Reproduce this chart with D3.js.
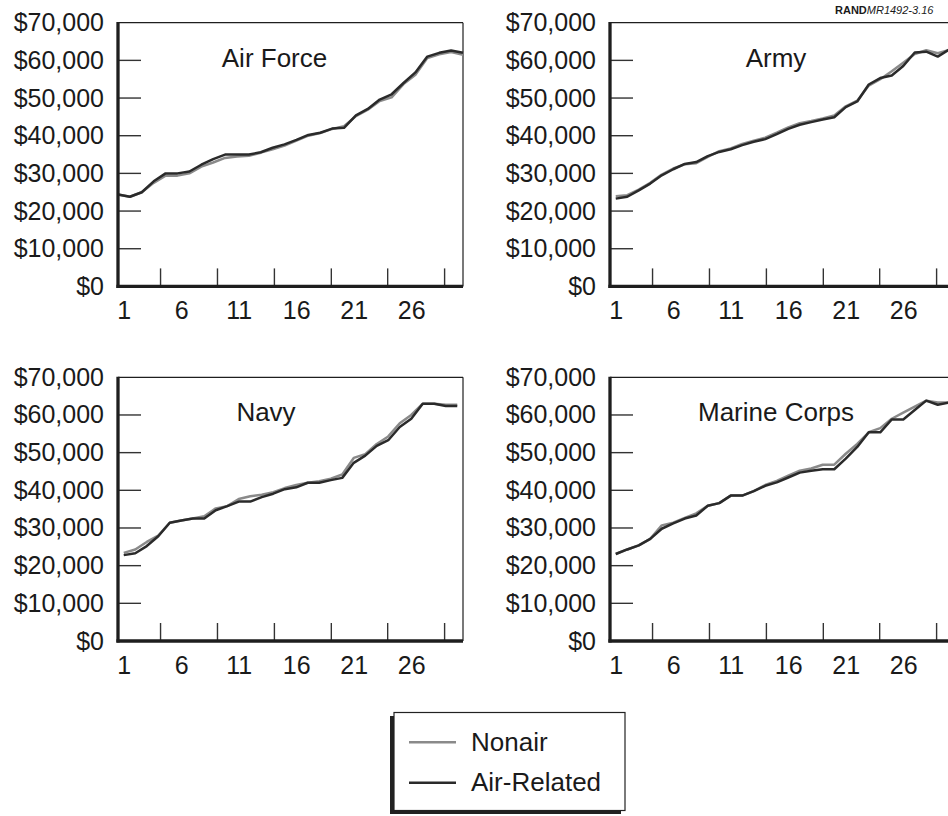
<!DOCTYPE html>
<html>
<head>
<meta charset="utf-8">
<script src="https://cdn.jsdelivr.net/npm/d3@7/dist/d3.min.js"></script>
<style>
  body { margin: 0; background: #fff; }
  svg { display: block; font-family: "Liberation Sans", Arial, sans-serif; }
</style>
</head>
<body>
<svg id="chart" width="948" height="816"></svg>
<script>
// ---------------- DATA ----------------
const years = [1,2,3,4,5,6,7,8,9,10,11,12,13,14,15,16,17,18,19,20,21,22,23,24,25,26,27,28,29,30];
const xTickLabels = [1, 6, 11, 16, 21, 26];
const xTickMarks = [4.2, 9.15, 14.1, 19.05, 23.95, 28.9];
const yTickLabels = [0, 10000, 20000, 30000, 40000, 50000, 60000, 70000];
const seriesNames = ["Nonair", "Air-Related"];
const panelNames = ["Air Force", "Army", "Navy", "Marine Corps"];

const airForceNonair = [24400, 23800, 25000, 27500, 29400, 29400, 30000, 31800, 32900, 34100, 34500, 34700, 35500, 36400, 37400, 38700, 40000, 40700, 41800, 42500, 45200, 46900, 49200, 50200, 53700, 56200, 60600, 61600, 62200, 61500];
const airForceAir    = [24400, 23800, 25000, 27900, 30000, 30000, 30500, 32300, 33800, 35000, 35000, 35000, 35600, 36800, 37700, 38900, 40200, 40800, 41900, 42100, 45400, 47100, 49600, 51000, 54000, 56800, 61000, 62000, 62600, 62000];

const armyNonair = [23900, 24200, 25700, 27500, 29700, 31300, 32400, 32700, 34400, 35900, 36600, 37800, 38700, 39500, 40800, 42200, 43300, 43900, 44600, 45400, 47800, 49300, 53300, 55000, 57100, 59400, 61700, 62700, 61900, 62800];
const armyAir    = [23300, 23800, 25500, 27300, 29500, 31100, 32500, 33000, 34600, 35700, 36400, 37500, 38400, 39100, 40400, 41800, 42900, 43600, 44300, 44900, 47600, 49100, 53600, 55300, 56000, 58500, 62100, 62300, 61000, 62900];

const navyNonair = [23400, 24300, 26300, 28000, 31400, 32000, 32500, 33100, 35200, 35800, 37700, 38400, 38800, 39500, 40600, 41400, 42000, 42400, 43100, 44200, 48600, 49600, 52300, 54300, 57800, 60000, 63000, 63000, 62700, 62700];
const navyAir    = [22800, 23300, 25200, 27800, 31400, 32000, 32500, 32500, 34700, 35800, 37000, 37000, 38200, 39100, 40300, 40800, 42000, 42000, 42700, 43300, 47300, 49200, 51800, 53300, 56800, 59000, 63000, 63000, 62400, 62400];

const marineNonair = [23100, 24300, 25400, 27100, 30700, 31400, 32700, 33900, 35900, 36600, 38600, 38600, 39800, 41400, 42500, 43900, 45200, 45800, 46800, 46800, 49700, 52300, 55400, 56500, 59000, 60600, 62200, 63800, 63300, 63300];
const marineAir    = [23100, 24300, 25400, 27100, 29800, 31200, 32500, 33300, 35900, 36600, 38600, 38600, 39800, 41200, 42100, 43400, 44700, 45200, 45600, 45600, 48400, 51500, 55400, 55400, 58800, 58800, 61300, 63800, 62700, 63300];

// ---------------- LAYOUT ----------------
const colLeft = [118, 610];
const rowTop = [22.7, 377.3];
const pw = 345, ph = 263.7;
const titleOffset = [156.5, 166, 148, 166];
const edgeToEdge = [true, false, false, false];
const grayColor = "#8a8a8a", darkColor = "#2a2a2a", axisColor = "#1e1e1e";

const panels = [
  { name: panelNames[0], nonair: airForceNonair, air: airForceAir },
  { name: panelNames[1], nonair: armyNonair, air: armyAir },
  { name: panelNames[2], nonair: navyNonair, air: navyAir },
  { name: panelNames[3], nonair: marineNonair, air: marineAir }
];

const svg = d3.select("#chart");
const fmt = d => "$" + d3.format(",")(d);

panels.forEach((p, i) => {
  const left = colLeft[i % 2], top = rowTop[Math.floor(i / 2)];
  const g = svg.append("g").attr("transform", `translate(${left},${top})`);
  const x = d3.scaleLinear().domain([0.5, 30.5]).range([0, pw]);
  const xLine = edgeToEdge[i] ? d3.scaleLinear().domain([1, 30]).range([0, pw]) : x;
  const y = d3.scaleLinear().domain([0, 70000]).range([ph, 0]);

  // thin top and right borders
  g.append("line").attr("x1", 0).attr("x2", pw).attr("y1", 0).attr("y2", 0)
    .attr("stroke", axisColor).attr("stroke-width", 1.2);
  g.append("line").attr("x1", pw).attr("x2", pw).attr("y1", 0).attr("y2", ph)
    .attr("stroke", axisColor).attr("stroke-width", 1.2);

  // y ticks (inward)
  g.selectAll(".yt").data(yTickLabels.filter(v => v > 0 && v < 70000)).enter()
    .append("line")
    .attr("x1", 0).attr("x2", 23)
    .attr("y1", d => y(d)).attr("y2", d => y(d))
    .attr("stroke", "#333").attr("stroke-width", 1.4);

  // x ticks (inward)
  g.selectAll(".xt").data(xTickMarks).enter()
    .append("line")
    .attr("x1", d => x(d)).attr("x2", d => x(d))
    .attr("y1", ph).attr("y2", ph - 18)
    .attr("stroke", "#333").attr("stroke-width", 1.4);

  // y axis labels
  const ya = g.append("g").call(d3.axisLeft(y).tickValues(yTickLabels).tickFormat(fmt).tickSize(0).tickPadding(14));
  ya.select(".domain").remove();
  ya.selectAll("text").attr("font-size", 25).attr("fill", "#1a1a1a")
    .attr("font-family", "'Liberation Sans', Arial, sans-serif");

  // x axis labels
  const xa = g.append("g").attr("transform", `translate(0,${ph})`)
    .call(d3.axisBottom(x).tickValues(xTickLabels).tickFormat(d3.format("d")).tickSize(0).tickPadding(15));
  xa.select(".domain").remove();
  xa.selectAll("text").attr("font-size", 25).attr("fill", "#1a1a1a")
    .attr("font-family", "'Liberation Sans', Arial, sans-serif");

  // lines
  const line = d3.line().x((d, j) => xLine(years[j])).y(d => y(d));
  g.append("path").datum(p.nonair).attr("d", line)
    .attr("fill", "none").attr("stroke", grayColor).attr("stroke-width", 2.5)
    .attr("stroke-linejoin", "round");
  g.append("path").datum(p.air).attr("d", line)
    .attr("fill", "none").attr("stroke", darkColor).attr("stroke-width", 2.5)
    .attr("stroke-linejoin", "round");

  // thick left and bottom axes
  g.append("line").attr("x1", 0).attr("x2", 0).attr("y1", -0.6).attr("y2", ph + 1.6)
    .attr("stroke", axisColor).attr("stroke-width", 3.3);
  g.append("line").attr("x1", -1.6).attr("x2", pw).attr("y1", ph).attr("y2", ph)
    .attr("stroke", axisColor).attr("stroke-width", 3.3);

  // title
  g.append("text").attr("x", titleOffset[i]).attr("y", 44)
    .attr("text-anchor", "middle").attr("font-size", 26).attr("fill", "#1a1a1a")
    .text(p.name);
});

// RAND label
const rl = svg.append("text").attr("x", 835).attr("y", 14).attr("font-size", 11).attr("fill", "#1a1a1a");
rl.append("tspan").attr("font-weight", "bold").text("RAND");
rl.append("tspan").attr("font-style", "italic").text("MR1492-3.16");

// Legend
const lg = svg.append("g");
lg.append("rect").attr("x", 390).attr("y", 716).attr("width", 231).attr("height", 98)
  .attr("fill", "#222");
lg.append("rect").attr("x", 394).attr("y", 712.5).attr("width", 231).attr("height", 98)
  .attr("fill", "#fff").attr("stroke", "#222").attr("stroke-width", 1.2);
const legendColors = [grayColor, darkColor];
seriesNames.forEach((s, k) => {
  const yy = 742.3 + k * 40.4;
  lg.append("line").attr("x1", 409).attr("x2", 456).attr("y1", yy).attr("y2", yy)
    .attr("stroke", legendColors[k]).attr("stroke-width", 2.5);
  lg.append("text").attr("x", 471).attr("y", yy + 8.6).attr("font-size", 26)
    .attr("fill", "#1a1a1a").text(s);
});
</script>
</body>
</html>
